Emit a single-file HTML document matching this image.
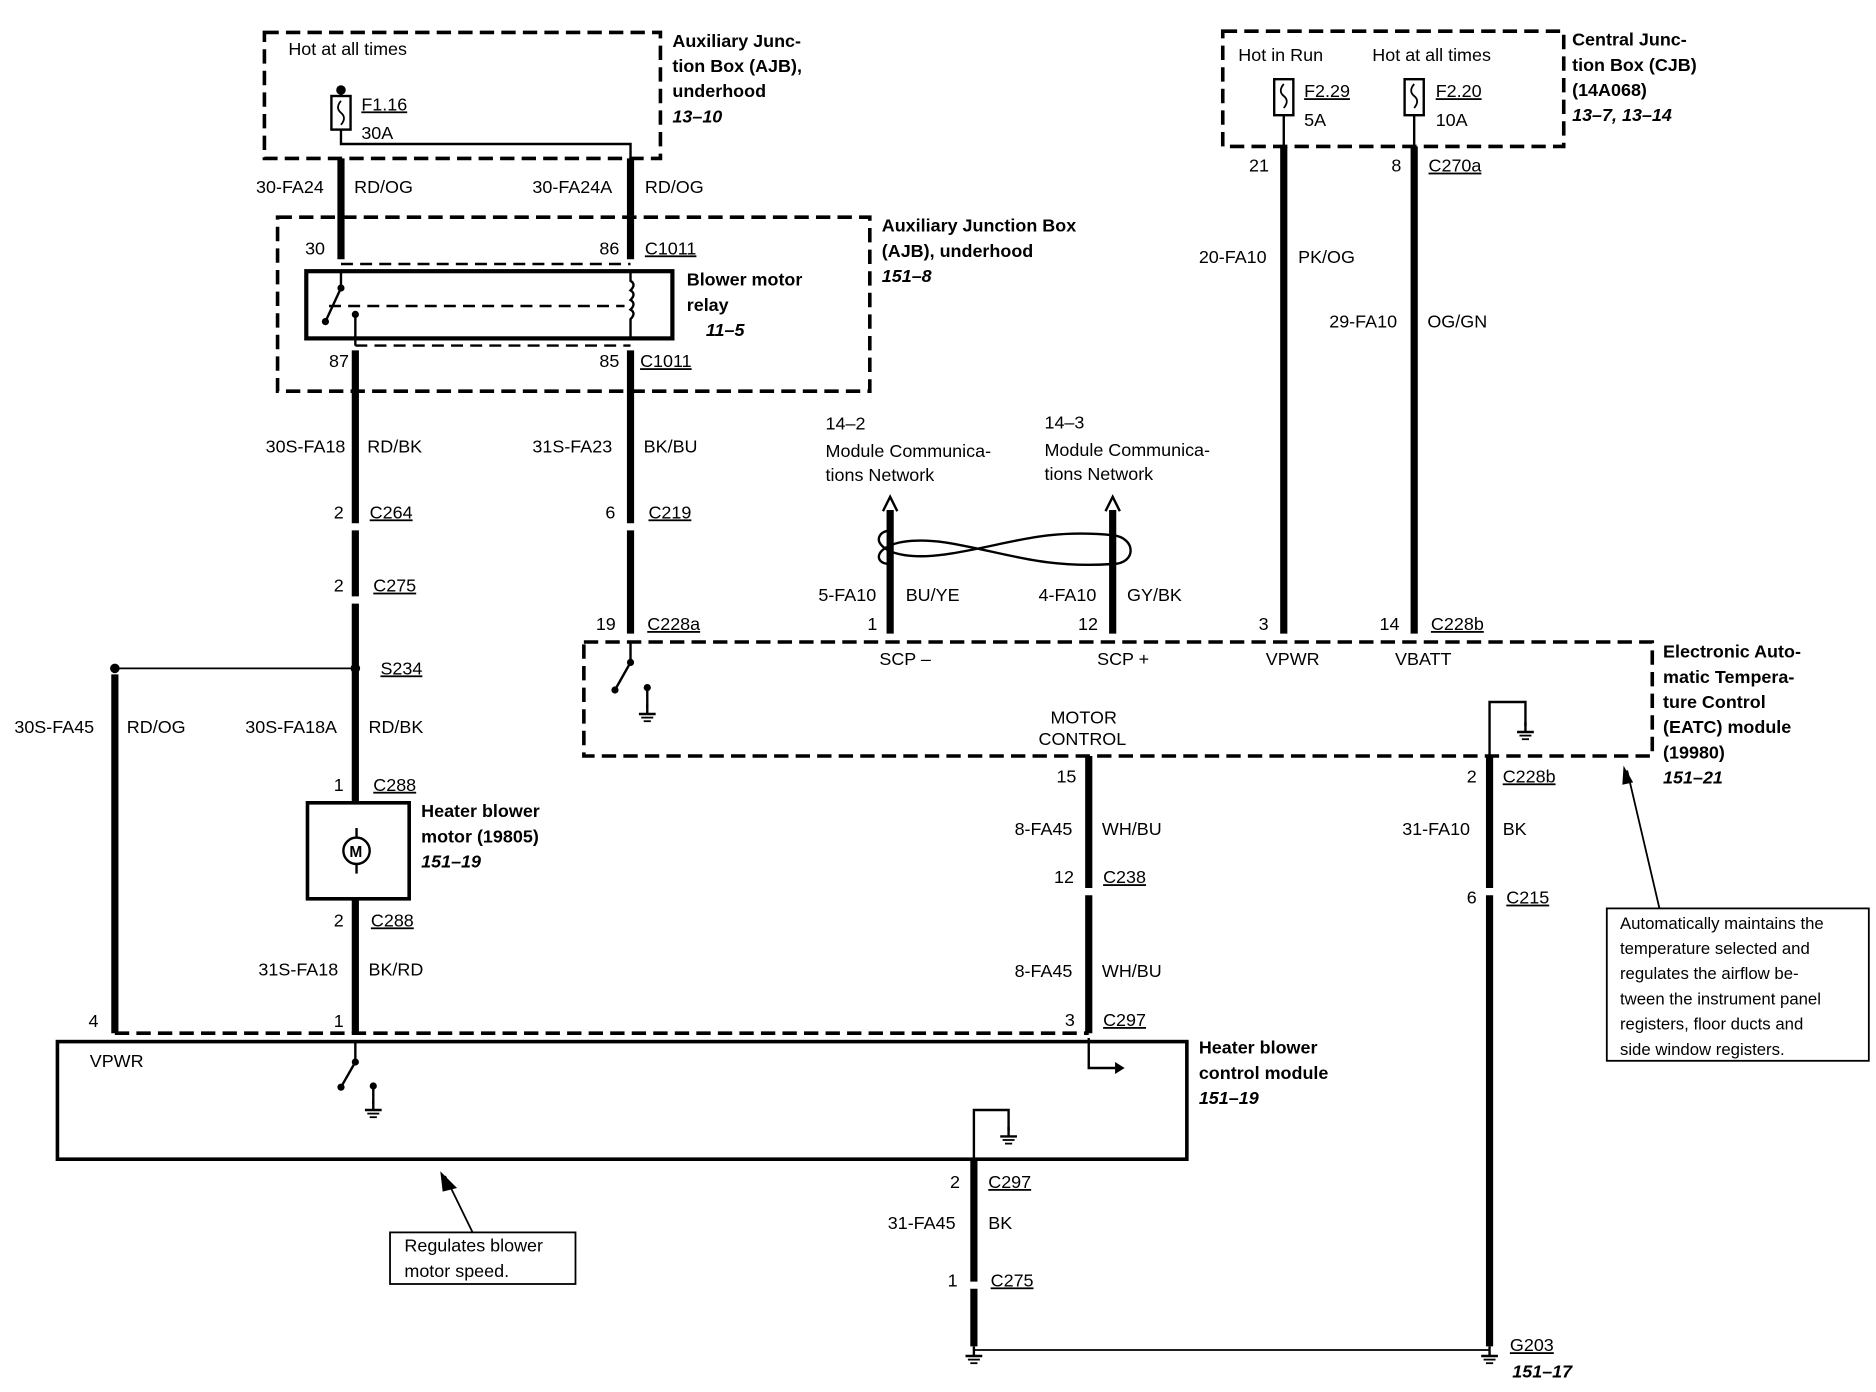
<!DOCTYPE html>
<html><head><meta charset="utf-8"><style>
html,body{margin:0;padding:0;background:#fff}
svg{display:block}
text{font-family:"Liberation Sans",sans-serif;font-size:15px;fill:#000}
.b{font-weight:bold}
.i{font-weight:bold;font-style:italic}
.u{text-decoration:underline}
</style></head><body>
<svg width="1876" height="1392" viewBox="0 0 1568 1160" preserveAspectRatio="none" xmlns="http://www.w3.org/2000/svg">
<defs>
<g id="gnd"><line x1="0" y1="-8" x2="0" y2="0" stroke="#000" stroke-width="2"/><line x1="-7" y1="0" x2="7" y2="0" stroke="#000" stroke-width="2"/><line x1="-5" y1="3" x2="5" y2="3" stroke="#000" stroke-width="1.5"/><line x1="-3" y1="6" x2="3" y2="6" stroke="#000" stroke-width="1.5"/></g>
</defs>
<g fill="none" stroke="#000">
<g stroke-width="3" stroke-dasharray="12,6">
<rect x="221" y="27" width="331" height="105"/>
<rect x="232" y="181" width="495" height="145"/>
<rect x="1022" y="26" width="285" height="96"/>
<rect x="488" y="535" width="893" height="95"/>
<line x1="96" y1="861" x2="910" y2="861"/>
</g>
<g stroke-width="2" stroke-dasharray="10,6">
<line x1="285" y1="220" x2="527" y2="220"/>
<line x1="297" y1="288" x2="527" y2="288"/>
<line x1="275" y1="255" x2="522" y2="255"/>
</g>
<rect x="256" y="226" width="306" height="56" stroke-width="3.5"/>
<line x1="285" y1="226" x2="285" y2="240" stroke-width="2"/>
<line x1="285" y1="240" x2="272" y2="268" stroke-width="2"/>
<line x1="297" y1="288" x2="297" y2="262" stroke-width="2"/>
<path d="M527 226 v8 q5 3 0 8 q5 3 0 8 q5 3 0 8 q5 3 0 8 v16" stroke-width="2"/>
<rect x="277" y="80" width="16" height="28" stroke-width="2"/>
<path d="M285 84 q-5 6 0 10 q5 4 0 10" stroke-width="1.5"/>
<line x1="285" y1="75" x2="285" y2="80" stroke-width="2"/>
<polyline points="285,108 285,120 527,120 527,132" stroke-width="2"/>
<rect x="1065" y="66" width="16" height="30" stroke-width="2"/>
<path d="M1073 70 q-5 6 0 10 q5 4 0 10" stroke-width="1.5"/>
<rect x="1174" y="66" width="16" height="30" stroke-width="2"/>
<path d="M1182 70 q-5 6 0 10 q5 4 0 10" stroke-width="1.5"/>
<line x1="1073" y1="96" x2="1073" y2="122" stroke-width="2"/>
<line x1="1182" y1="96" x2="1182" y2="122" stroke-width="2"/>
<g stroke-width="6">
<line x1="285" y1="132" x2="285" y2="216"/>
<line x1="527" y1="132" x2="527" y2="216"/>
<line x1="297" y1="292" x2="297" y2="436"/>
<line x1="297" y1="442" x2="297" y2="497"/>
<line x1="297" y1="503" x2="297" y2="669"/>
<line x1="527" y1="292" x2="527" y2="436"/>
<line x1="527" y1="442" x2="527" y2="528"/>
<line x1="96" y1="562" x2="96" y2="861"/>
<line x1="297" y1="749" x2="297" y2="861"/>
<line x1="744" y1="425" x2="744" y2="528"/>
<line x1="930" y1="425" x2="930" y2="528"/>
<line x1="1073" y1="122" x2="1073" y2="528"/>
<line x1="1182" y1="122" x2="1182" y2="528"/>
<line x1="910" y1="630" x2="910" y2="740"/>
<line x1="910" y1="746" x2="910" y2="861"/>
<line x1="1245" y1="630" x2="1245" y2="740"/>
<line x1="1245" y1="746" x2="1245" y2="1122"/>
<line x1="814" y1="966" x2="814" y2="1068"/>
<line x1="814" y1="1074" x2="814" y2="1122"/>
</g>
<g stroke-width="2"><polyline points="738,426 744,414 750,426"/><polyline points="924,426 930,414 936,426"/></g>
<path d="M744 442 C 725 444 732 470 790 462 C 840 455 870 440 930 446 C 950 448 950 470 930 470 C 870 474 840 460 790 452 C 732 444 725 470 744 470" stroke-width="2"/>
<line x1="96" y1="557" x2="297" y2="557" stroke-width="1.5"/>
<rect x="257" y="669" width="85" height="80" stroke-width="3"/>
<circle cx="298" cy="709" r="11" stroke-width="2"/>
<line x1="298" y1="690" x2="298" y2="698" stroke-width="2"/>
<line x1="298" y1="720" x2="298" y2="728" stroke-width="2"/>
<rect x="48" y="868" width="944" height="98" stroke-width="3"/>
<line x1="297" y1="868" x2="297" y2="885" stroke-width="2"/>
<line x1="297" y1="885" x2="285" y2="906" stroke-width="2"/>
<line x1="312" y1="905" x2="312" y2="920" stroke-width="2"/>
<polyline points="910,865 910,890 932,890" stroke-width="2"/>
<polyline points="814,966 814,925 843,925 843,942" stroke-width="2"/>
<line x1="527" y1="535" x2="527" y2="552" stroke-width="2"/>
<line x1="527" y1="552" x2="514" y2="575" stroke-width="2"/>
<line x1="541" y1="573" x2="541" y2="590" stroke-width="2"/>
<polyline points="1245,630 1245,585 1275,585 1275,605" stroke-width="2"/>
<line x1="814" y1="1125" x2="1245" y2="1125" stroke-width="1.5"/>
<rect x="326" y="1027" width="155" height="43" stroke-width="1.5"/>
<line x1="395" y1="1027" x2="372" y2="980" stroke-width="1.5"/>
<rect x="1343" y="757" width="219" height="127" stroke-width="1.5"/>
<line x1="1387" y1="757" x2="1360" y2="642" stroke-width="1.5"/>
</g>
<g fill="#000">
<circle cx="285" cy="75" r="4"/>
<circle cx="96" cy="557" r="4"/><circle cx="297" cy="557" r="4"/>
<circle cx="285" cy="240" r="3"/><circle cx="272" cy="268" r="3"/><circle cx="297" cy="262" r="3"/>
<circle cx="297" cy="885" r="3"/><circle cx="285" cy="906" r="3"/><circle cx="312" cy="905" r="3"/>
<circle cx="527" cy="552" r="3"/><circle cx="514" cy="575" r="3"/><circle cx="541" cy="573" r="3"/>
<polygon points="932,885 940,890 932,895"/>
<polygon points="368,976 382,990 370,993"/>
<polygon points="1357,638 1356,654 1365,652"/>
</g>
<use href="#gnd" x="312" y="925"/><use href="#gnd" x="843" y="947"/><use href="#gnd" x="541" y="595"/><use href="#gnd" x="1275" y="610"/>
<use href="#gnd" x="814" y="1130"/><use href="#gnd" x="1245" y="1130"/>

<text x="292" y="714" style="font-size:13px;font-weight:bold">M</text>
<text x="241" y="46">Hot at all times</text>
<text x="302" y="92" class="u">F1.16</text><text x="302" y="116">30A</text>
<text x="562" y="39" class="b">Auxiliary Junc-</text><text x="562" y="60" class="b">tion Box (AJB),</text><text x="562" y="81" class="b">underhood</text><text x="562" y="102" class="i">13–10</text>
<text x="214" y="161">30-FA24</text><text x="296" y="161">RD/OG</text><text x="445" y="161">30-FA24A</text><text x="539" y="161">RD/OG</text>
<text x="255" y="212">30</text><text x="501" y="212">86</text><text x="539" y="212" class="u">C1011</text>
<text x="275" y="306">87</text><text x="501" y="306">85</text><text x="535" y="306" class="u">C1011</text>
<text x="737" y="193" class="b">Auxiliary Junction Box</text><text x="737" y="214" class="b">(AJB), underhood</text><text x="737" y="235" class="i">151–8</text>
<text x="574" y="238" class="b">Blower motor</text><text x="574" y="259" class="b">relay</text><text x="590" y="280" class="i">11–5</text>
<text x="222" y="377">30S-FA18</text><text x="307" y="377">RD/BK</text><text x="445" y="377">31S-FA23</text><text x="538" y="377">BK/BU</text>
<text x="279" y="432">2</text><text x="309" y="432" class="u">C264</text><text x="506" y="432">6</text><text x="542" y="432" class="u">C219</text>
<text x="279" y="493">2</text><text x="312" y="493" class="u">C275</text>
<text x="318" y="562" class="u">S234</text>
<text x="12" y="611">30S-FA45</text><text x="106" y="611">RD/OG</text><text x="205" y="611">30S-FA18A</text><text x="308" y="611">RD/BK</text>
<text x="279" y="659">1</text><text x="312" y="659" class="u">C288</text>
<text x="352" y="681" class="b">Heater blower</text><text x="352" y="702" class="b">motor (19805)</text><text x="352" y="723" class="i">151–19</text>
<text x="279" y="772">2</text><text x="310" y="772" class="u">C288</text>
<text x="216" y="813">31S-FA18</text><text x="308" y="813">BK/RD</text>
<text x="74" y="856">4</text><text x="279" y="856">1</text><text x="75" y="889">VPWR</text>
<text x="1002" y="878" class="b">Heater blower</text><text x="1002" y="899" class="b">control module</text><text x="1002" y="920" class="i">151–19</text>
<text x="883" y="652">15</text><text x="848" y="696">8-FA45</text><text x="921" y="696">WH/BU</text>
<text x="881" y="736">12</text><text x="922" y="736" class="u">C238</text>
<text x="848" y="814">8-FA45</text><text x="921" y="814">WH/BU</text>
<text x="890" y="855">3</text><text x="922" y="855" class="u">C297</text>
<text x="794" y="990">2</text><text x="826" y="990" class="u">C297</text>
<text x="742" y="1024">31-FA45</text><text x="826" y="1024">BK</text>
<text x="792" y="1072">1</text><text x="828" y="1072" class="u">C275</text>
<text x="338" y="1043">Regulates blower</text><text x="338" y="1064">motor speed.</text>
<text x="498" y="525">19</text><text x="541" y="525" class="u">C228a</text>
<text x="735" y="554">SCP –</text><text x="917" y="554">SCP +</text><text x="1058" y="554">VPWR</text><text x="1166" y="554">VBATT</text>
<text x="878" y="603">MOTOR</text><text x="868" y="621">CONTROL</text>
<text x="1390" y="548" class="b">Electronic Auto-</text><text x="1390" y="569" class="b">matic Tempera-</text><text x="1390" y="590" class="b">ture Control</text><text x="1390" y="611" class="b">(EATC) module</text><text x="1390" y="632" class="b">(19980)</text><text x="1390" y="653" class="i">151–21</text>
<text x="690" y="358">14–2</text><text x="690" y="381">Module Communica-</text><text x="690" y="401">tions Network</text>
<text x="873" y="357">14–3</text><text x="873" y="380">Module Communica-</text><text x="873" y="400">tions Network</text>
<text x="684" y="501">5-FA10</text><text x="757" y="501">BU/YE</text><text x="868" y="501">4-FA10</text><text x="942" y="501">GY/BK</text>
<text x="725" y="525">1</text><text x="901" y="525">12</text>
<text x="1035" y="51">Hot in Run</text><text x="1147" y="51">Hot at all times</text>
<text x="1090" y="81" class="u">F2.29</text><text x="1090" y="105">5A</text><text x="1200" y="81" class="u">F2.20</text><text x="1200" y="105">10A</text>
<text x="1314" y="38" class="b">Central Junc-</text><text x="1314" y="59" class="b">tion Box (CJB)</text><text x="1314" y="80" class="b">(14A068)</text><text x="1314" y="101" class="i">13–7, 13–14</text>
<text x="1044" y="143">21</text><text x="1163" y="143">8</text><text x="1194" y="143" class="u">C270a</text>
<text x="1002" y="219">20-FA10</text><text x="1085" y="219">PK/OG</text><text x="1111" y="273">29-FA10</text><text x="1193" y="273">OG/GN</text>
<text x="1052" y="525">3</text><text x="1153" y="525">14</text><text x="1196" y="525" class="u">C228b</text>
<text x="1226" y="652">2</text><text x="1256" y="652" class="u">C228b</text>
<text x="1172" y="696">31-FA10</text><text x="1256" y="696">BK</text>
<text x="1226" y="753">6</text><text x="1259" y="753" class="u">C215</text>
<text x="1262" y="1126" class="u">G203</text><text x="1264" y="1148" class="i">151–17</text>
<text x="1354" y="774" style="font-size:14px">Automatically maintains the</text>
<text x="1354" y="795" style="font-size:14px">temperature selected and</text>
<text x="1354" y="816" style="font-size:14px">regulates the airflow be-</text>
<text x="1354" y="837" style="font-size:14px">tween the instrument panel</text>
<text x="1354" y="858" style="font-size:14px">registers, floor ducts and</text>
<text x="1354" y="879" style="font-size:14px">side window registers.</text>
</svg>
</body></html>
